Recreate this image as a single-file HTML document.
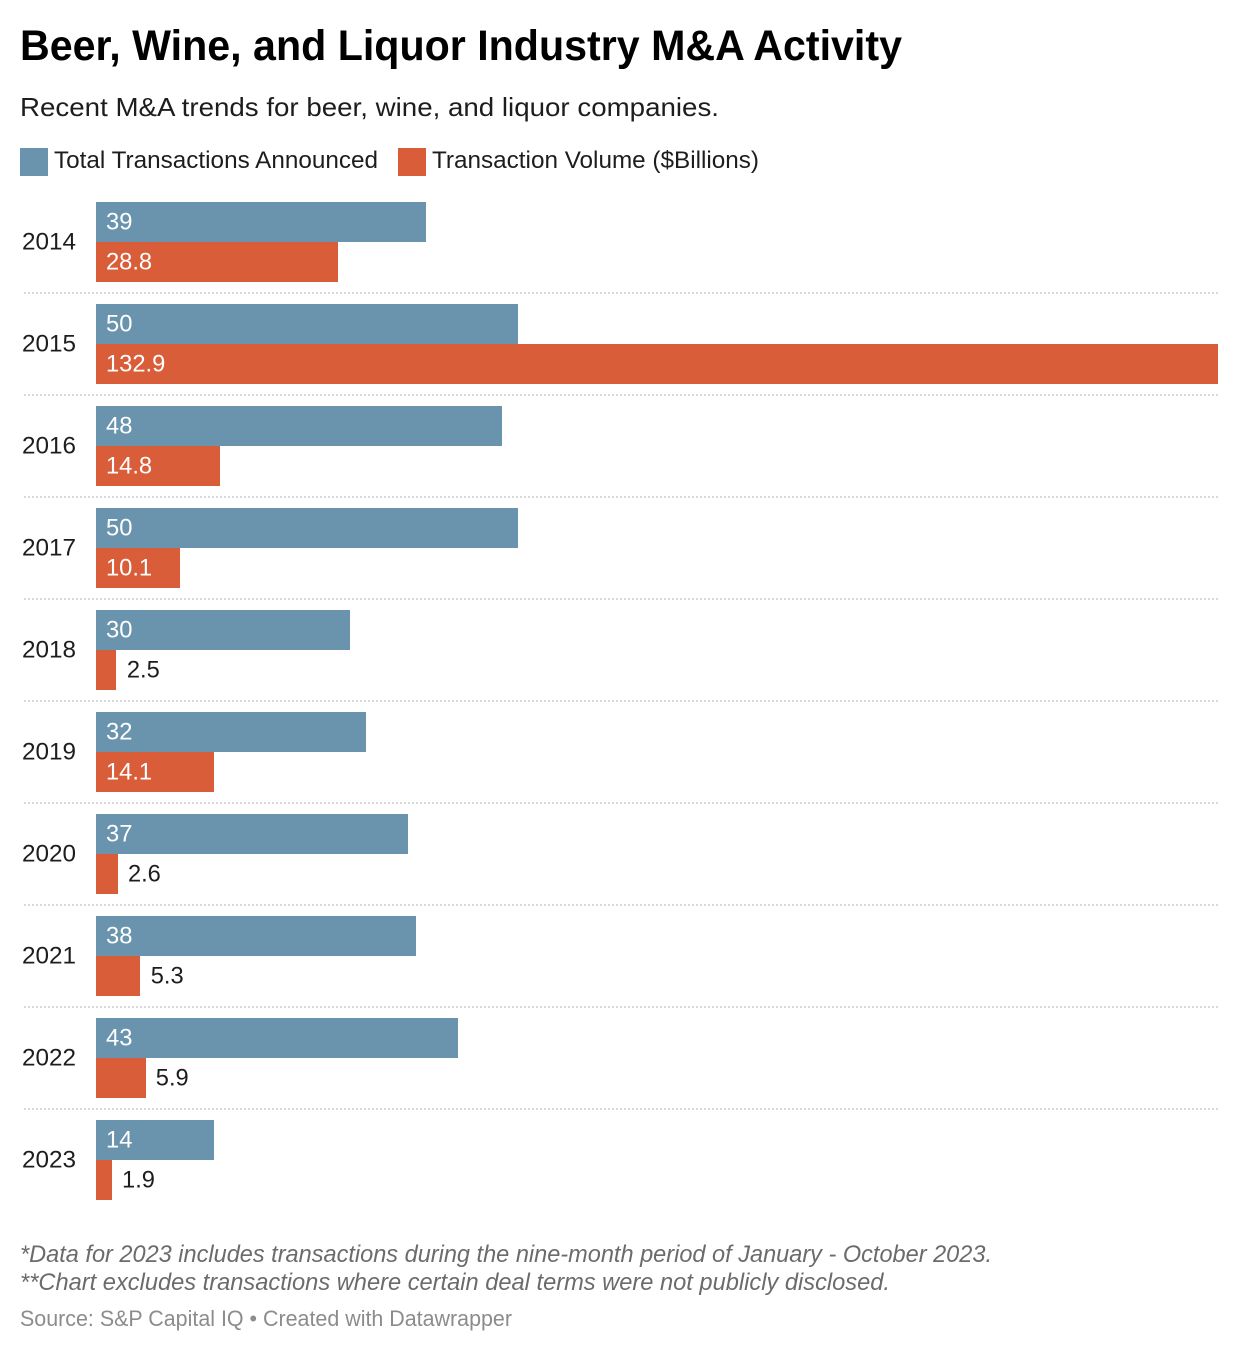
<!DOCTYPE html>
<html lang="en">
<head>
<meta charset="utf-8">
<title>Beer, Wine, and Liquor Industry M&amp;A Activity</title>
<style>
html,body{margin:0;padding:0;background:#fff;}
svg{display:block;font-family:"Liberation Sans",Arial,sans-serif;}
</style>
</head>
<body>
<svg id="chart" xmlns="http://www.w3.org/2000/svg" width="1240" height="1354" viewBox="0 0 1240 1354">
  <text x="20" y="60" font-size="43" font-weight="700" fill="#000" textLength="882" lengthAdjust="spacingAndGlyphs">Beer, Wine, and Liquor Industry M&amp;A Activity</text>
  <text x="20" y="116" font-size="26" fill="#1d1d1d" textLength="699" lengthAdjust="spacingAndGlyphs">Recent M&amp;A trends for beer, wine, and liquor companies.</text>
  <rect x="20" y="148" width="28" height="28" fill="#6a94ae"/>
  <text x="54" y="168" font-size="24" fill="#1d1d1d" textLength="324" lengthAdjust="spacingAndGlyphs">Total Transactions Announced</text>
  <rect x="398" y="148" width="28" height="28" fill="#d95d39"/>
  <text x="432" y="168" font-size="24" fill="#1d1d1d" textLength="327" lengthAdjust="spacingAndGlyphs">Transaction Volume ($Billions)</text>
  <g id="plot"></g>
  <text x="20" y="1262" font-size="24" font-style="italic" fill="#6b6b6b" textLength="972" lengthAdjust="spacingAndGlyphs">*Data for 2023 includes transactions during the nine-month period of January - October 2023.</text>
  <text x="20" y="1290" font-size="24" font-style="italic" fill="#6b6b6b" textLength="870" lengthAdjust="spacingAndGlyphs">**Chart excludes transactions where certain deal terms were not publicly disclosed.</text>
  <text x="20" y="1326" font-size="22" fill="#8c8c8c" textLength="492" lengthAdjust="spacingAndGlyphs">Source: S&amp;P Capital IQ • Created with Datawrapper</text>
</svg>
<script>
var years = ['2014','2015','2016','2017','2018','2019','2020','2021','2022','2023'];
var transactions = [39,50,48,50,30,32,37,38,43,14];
var volume = [28.76,132.9,14.8,10.06,2.47,14.06,2.6,5.3,5.9,1.9];

var NS = 'http://www.w3.org/2000/svg';
var plot = document.getElementById('plot');
var X0 = 96, X_MAX = 1218, DOMAIN_MAX = 132.94;
var ROW0 = 202, ROW_STEP = 102, BAR_H = 40;

function xScale(v){ return (X_MAX - X0) * v / DOMAIN_MAX; }
function rowY(i){ return ROW0 + i * ROW_STEP; }

function make(tag, attrs, text){
  var el = document.createElementNS(NS, tag);
  for (var k in attrs) el.setAttribute(k, attrs[k]);
  if (text !== undefined) el.textContent = text;
  plot.appendChild(el);
  return el;
}

function drawBar(i, val, offset, color, label){
  var w = Math.round(xScale(val) / 2) * 2;
  var y = rowY(i) + offset;
  var bar = make('rect', {x: X0, y: y, width: w, height: BAR_H, fill: color});
  
  
  var textW = label.length * 13;
  var inside = w > textW + 20;
  var t = make('text', {
    x: inside ? X0 + 10 : X0 + xScale(val) + 10,
    y: y + 27.5,
    'font-size': 24,
    fill: inside ? '#fff' : '#1d1d1d',
    textLength: label.replace('.', '').length * 13.2 + (label.indexOf('.') >= 0 ? 6.5 : 0),
    lengthAdjust: 'spacingAndGlyphs'
  }, label);
  
  
}

years.forEach(function(year, i){
  var lab = make('text', {
    x: 22,
    y: rowY(i) + 47.5,
    'font-size': 24,
    fill: '#1d1d1d',
    textLength: 54,
    lengthAdjust: 'spacingAndGlyphs'
  }, year);
  
  

  drawBar(i, transactions[i], 0, '#6a94ae', String(transactions[i]));
  drawBar(i, volume[i], BAR_H, '#d95d39', volume[i].toFixed(1));

  if (i < years.length - 1) {
    var sep = make('line', {
      x1: 24, x2: 1218,
      y1: rowY(i) + 91, y2: rowY(i) + 91,
      stroke: '#dadada',
      'stroke-width': 2,
      'stroke-dasharray': '2 2'
    });
    
    
  }
});
</script>
</body>
</html>
